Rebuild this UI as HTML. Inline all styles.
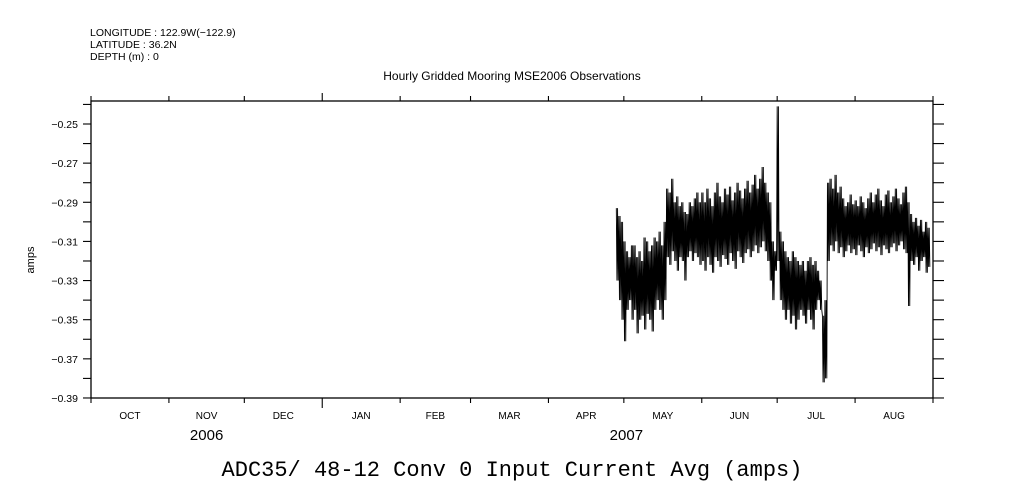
<!DOCTYPE html>
<html><head><meta charset="utf-8"><style>
html,body{margin:0;padding:0;background:#fff;}
svg{display:block;font-family:"Liberation Sans",sans-serif;}
</style></head><body>
<svg id="chart" width="1009" height="504" viewBox="0 0 1009 504">
<rect x="0" y="0" width="1009" height="504" fill="#fff"/>
<text x="90" y="36" font-size="10.5">LONGITUDE : 122.9W(−122.9)</text>
<text x="90" y="48" font-size="10.5">LATITUDE : 36.2N</text>
<text x="90" y="60" font-size="10.5">DEPTH (m) : 0</text>
<text x="512" y="80" font-size="12" text-anchor="middle">Hourly Gridded Mooring MSE2006 Observations</text>
<text x="0" y="0" font-size="11" text-anchor="middle" transform="translate(34,260) rotate(-90)">amps</text>
<text x="512" y="476" font-size="22" text-anchor="middle" font-family="Liberation Mono, monospace">ADC35/ 48-12 Conv 0 Input Current Avg (amps)</text>
<rect x="91" y="101" width="842" height="297" fill="none" stroke="#000" stroke-width="1.3"/>
<g id="axes"></g>
<path id="series" fill="none" stroke="#000" stroke-width="0.9"/>
</svg>
<script>
const months=["OCT","NOV","DEC","JAN","FEB","MAR","APR","MAY","JUN","JUL","AUG"];
const monthStartDays=[0,31,61,92,123,151,182,212,243,273,304,335];
const yTicks=[-0.25,-0.27,-0.29,-0.31,-0.33,-0.35,-0.37,-0.39];
const years=["2006","2007"];
const startDay=209;
const dailyHigh=[-0.293,-0.297,-0.300,-0.310,-0.315,-0.318,-0.312,
-0.312,-0.318,-0.315,-0.320,-0.308,-0.310,-0.315,-0.312,-0.308,-0.310,-0.305,-0.312,-0.300,
-0.283,-0.285,-0.278,-0.290,-0.287,-0.292,-0.290,-0.295,-0.296,-0.290,-0.292,-0.288,-0.285,-0.290,
-0.285,-0.290,-0.283,-0.288,-0.292,-0.285,-0.280,-0.287,-0.290,-0.283,-0.286,-0.282,-0.289,-0.285,-0.280,-0.284,-0.288,-0.283,-0.279,-0.285,-0.281,-0.276,-0.283,-0.278,-0.272,-0.280,-0.285,
-0.290,-0.310,-0.315,
-0.241,
-0.305,-0.310,-0.315,-0.318,-0.320,-0.315,-0.318,-0.320,-0.322,-0.320,-0.325,-0.320,-0.318,-0.322,-0.320,-0.325,-0.330,
-0.348,-0.340,
-0.280,
-0.278,-0.283,-0.276,-0.285,-0.282,-0.288,-0.292,-0.290,-0.286,-0.291,-0.289,-0.292,-0.287,-0.290,-0.293,-0.288,-0.285,-0.290,-0.286,-0.283,-0.289,-0.292,-0.286,-0.284,-0.290,-0.287,-0.283,-0.288,-0.291,-0.285,-0.282,-0.290,-0.296,-0.300,-0.298,-0.302,-0.299,-0.305,-0.300,-0.303];
const dailyLow=[-0.330,-0.340,-0.350,-0.361,-0.345,-0.340,-0.350,
-0.345,-0.357,-0.350,-0.348,-0.355,-0.347,-0.350,-0.356,-0.345,-0.340,-0.345,-0.350,-0.340,
-0.318,-0.322,-0.315,-0.320,-0.325,-0.318,-0.320,-0.330,-0.318,-0.315,-0.320,-0.316,-0.318,-0.322,
-0.320,-0.325,-0.318,-0.322,-0.326,-0.318,-0.320,-0.323,-0.317,-0.319,-0.322,-0.316,-0.320,-0.324,-0.315,-0.318,-0.321,-0.316,-0.314,-0.318,-0.315,-0.312,-0.316,-0.313,-0.310,-0.315,-0.320,
-0.330,-0.340,-0.325,
-0.320,
-0.340,-0.345,-0.350,-0.345,-0.352,-0.348,-0.355,-0.350,-0.345,-0.348,-0.352,-0.345,-0.350,-0.355,-0.345,-0.340,-0.345,
-0.382,-0.380,
-0.320,
-0.312,-0.315,-0.310,-0.316,-0.313,-0.318,-0.315,-0.312,-0.316,-0.314,-0.317,-0.312,-0.315,-0.318,-0.313,-0.316,-0.314,-0.311,-0.315,-0.313,-0.317,-0.312,-0.314,-0.316,-0.313,-0.311,-0.315,-0.312,-0.310,-0.314,-0.316,-0.343,-0.320,-0.322,-0.318,-0.325,-0.320,-0.318,-0.326,-0.323];

const X0=91,X1=933,Y0=101,Y1=398;
const xs=d=>X0+d*(X1-X0)/335;
const ys=v=>124+(-0.25-v)/0.02*39.14;
const NS="http://www.w3.org/2000/svg";
const ax=document.getElementById("axes");
function line(x1,y1,x2,y2,name){const l=document.createElementNS(NS,"line");
l.setAttribute("x1",x1);l.setAttribute("y1",y1);l.setAttribute("x2",x2);l.setAttribute("y2",y2);
l.setAttribute("stroke","#000");l.setAttribute("stroke-width","1.1");


ax.appendChild(l);}
function text(x,y,s,size,anchor,name){const t=document.createElementNS(NS,"text");
t.setAttribute("x",x);t.setAttribute("y",y);t.setAttribute("font-size",size);t.setAttribute("text-anchor",anchor);t.textContent=s;


ax.appendChild(t);}
for(let k=0;k<=15;k++){const v=-0.24-0.01*k;const y=ys(v);if(y<Y0-0.5||y>Y1+0.5)continue;
line(X0-8,y,X0,y,"y-tick");line(X1,y,X1+11,y,"y-tick-right");}
yTicks.forEach(v=>text(X0-13,ys(v)+4,v.toFixed(2).replace("-","−"),10.5,"end","y-tick-label"));
monthStartDays.forEach((d,i)=>{const x=xs(d);const big=(i===3);
line(x,Y0-(big?8:5),x,Y0,"x-tick-top");line(x,Y1,x,Y1+(big?10:5),"x-tick-bottom");});
months.forEach((m,i)=>text((xs(monthStartDays[i])+xs(monthStartDays[i+1]))/2,419,m,10,"middle","month-label"));
text(xs(46),440,years[0],15,"middle","year-label-2006");
text(xs(213),440,years[1],15,"middle","year-label-2007");
let p="";const n=Math.min(dailyHigh.length,dailyLow.length);
for(let i=0;i<n;i++){const x=xs(startDay+i);const step=(X1-X0)/335/4;
const h=ys(dailyHigh[i]),l=ys(dailyLow[i]);
p+=(i===0?"M":"L")+x.toFixed(2)+","+h.toFixed(2)+"L"+(x+step).toFixed(2)+","+l.toFixed(2)+"L"+(x+2*step).toFixed(2)+","+h.toFixed(2)+"L"+(x+3*step).toFixed(2)+","+l.toFixed(2);}
document.getElementById("series").setAttribute("d",p);
</script>
</body></html>
